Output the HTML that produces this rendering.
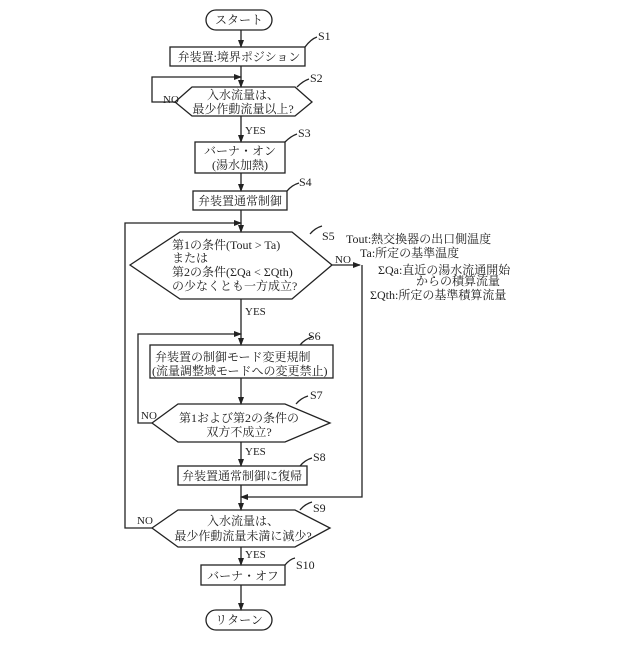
<!DOCTYPE html>
<html><head><meta charset="utf-8"><style>
html,body{margin:0;padding:0;background:#fff}
svg text{font-family:"Liberation Serif","Noto Serif CJK SC","Noto Sans CJK JP",serif;font-size:12px;fill:#222}
</style></head><body>
<svg width="640" height="640" viewBox="0 0 640 640" xmlns="http://www.w3.org/2000/svg">
<defs><marker id="a" markerWidth="8" markerHeight="6" refX="7" refY="3" orient="auto" markerUnits="userSpaceOnUse"><path d="M0,0 L8,3 L0,6 z" fill="#222"/></marker></defs>
<g stroke="#222" stroke-width="1.3" fill="#fff">
<rect x="206" y="10" width="66" height="20" rx="10"/>
<rect x="170" y="47" width="135" height="19"/>
<polygon points="175,102 192,87 295,87 312,102 295,116 192,116"/>
<rect x="195" y="142" width="90" height="31"/>
<rect x="193" y="191" width="94" height="19"/>
<polygon points="130,265 180,232 292,232 332,265 292,299 180,299"/>
<rect x="150" y="345" width="183" height="33"/>
<polygon points="152,423 178,404 285,404 330,423 285,442 178,442"/>
<rect x="178" y="466" width="129" height="19"/>
<polygon points="152,528 178,510 295,510 330,528 295,547 178,547"/>
<rect x="201" y="565" width="84" height="20"/>
<rect x="206" y="610" width="66" height="20" rx="10"/>
</g>
<g stroke="#222" stroke-width="1.3" fill="none">
<line x1="241" y1="30" x2="241" y2="47" marker-end="url(#a)"/>
<line x1="241" y1="66" x2="241" y2="87" marker-end="url(#a)"/>
<polyline points="175,102 152,102 152,77 241,77" marker-end="url(#a)"/>
<line x1="241" y1="116" x2="241" y2="142" marker-end="url(#a)"/>
<line x1="241" y1="173" x2="241" y2="191" marker-end="url(#a)"/>
<line x1="241" y1="210" x2="241" y2="232" marker-end="url(#a)"/>
<polyline points="152,528 125,528 125,223 241,223" marker-end="url(#a)"/>
<line x1="332" y1="265" x2="360" y2="265" marker-end="url(#a)"/>
<polyline points="362,265 362,497 241,497" marker-end="url(#a)"/>
<line x1="241" y1="299" x2="241" y2="345" marker-end="url(#a)"/>
<polyline points="152,423 138,423 138,334 241,334" marker-end="url(#a)"/>
<line x1="241" y1="378" x2="241" y2="404" marker-end="url(#a)"/>
<line x1="241" y1="442" x2="241" y2="466" marker-end="url(#a)"/>
<line x1="241" y1="485" x2="241" y2="510" marker-end="url(#a)"/>
<line x1="241" y1="547" x2="241" y2="565" marker-end="url(#a)"/>
<line x1="241" y1="585" x2="241" y2="610" marker-end="url(#a)"/>
<path d="M305,47 q6,-8 12,-10"/><path d="M297,87 q6,-6 12,-8"/><path d="M285,142 q6,-6 12,-8"/>
<path d="M287,191 q5,-6 12,-8"/><path d="M310,234 q5,-6 12,-8"/><path d="M300,345 q5,-6 12,-8"/>
<path d="M296,404 q5,-6 12,-8"/><path d="M300,466 q5,-6 12,-8"/><path d="M300,510 q5,-6 12,-8"/><path d="M285,565 q5,-6 10,-7"/>
</g>
<g text-anchor="middle">
<text x="239" y="24">スタート</text>
<text x="239" y="61">弁装置:境界ポジション</text>
<text x="243" y="99">入水流量は、</text>
<text x="243" y="113">最少作動流量以上?</text>
<text x="240" y="155">バーナ・オン</text>
<text x="240" y="169">(湯水加熱)</text>
<text x="240" y="205">弁装置通常制御</text>
<text x="239" y="429" dy="-7">第1および第2の条件の</text>
<text x="239" y="436">双方不成立?</text>
<text x="242" y="480">弁装置通常制御に復帰</text>
<text x="243" y="525">入水流量は、</text>
<text x="243" y="540">最少作動流量未満に減少?</text>
<text x="243" y="580">バーナ・オフ</text>
<text x="239" y="624">リターン</text>
<text x="458" y="285">からの積算流量</text>
</g>
<text x="172" y="249">第1の条件(Tout &gt; Ta)</text>
<text x="172" y="262">または</text>
<text x="172" y="276">第2の条件(ΣQa &lt; ΣQth)</text>
<text x="172" y="290">の少なくとも一方成立?</text>
<text x="155" y="361">弁装置の制御モード変更規制</text>
<text x="152" y="375">(流量調整域モードへの変更禁止)</text>
<g font-size="11">
<text x="163" y="103" style="font-size:11px">NO</text>
<text x="245" y="134" style="font-size:11px">YES</text>
<text x="335" y="263" style="font-size:11px">NO</text>
<text x="245" y="315" style="font-size:11px">YES</text>
<text x="141" y="419" style="font-size:11px">NO</text>
<text x="245" y="455" style="font-size:11px">YES</text>
<text x="137" y="524" style="font-size:11px">NO</text>
<text x="245" y="558" style="font-size:11px">YES</text>
<text x="318" y="40">S1</text><text x="310" y="82">S2</text><text x="298" y="137">S3</text>
<text x="299" y="186">S4</text><text x="322" y="240">S5</text><text x="308" y="340">S6</text>
<text x="310" y="399">S7</text><text x="313" y="461">S8</text><text x="313" y="512">S9</text>
<text x="296" y="569">S10</text>
</g>
<text x="346" y="243">Tout:熱交換器の出口側温度</text>
<text x="360" y="257">Ta:所定の基準温度</text>
<text x="378" y="274">ΣQa:直近の湯水流通開始</text>
<text x="370" y="299">ΣQth:所定の基準積算流量</text>
</svg>
</body></html>
